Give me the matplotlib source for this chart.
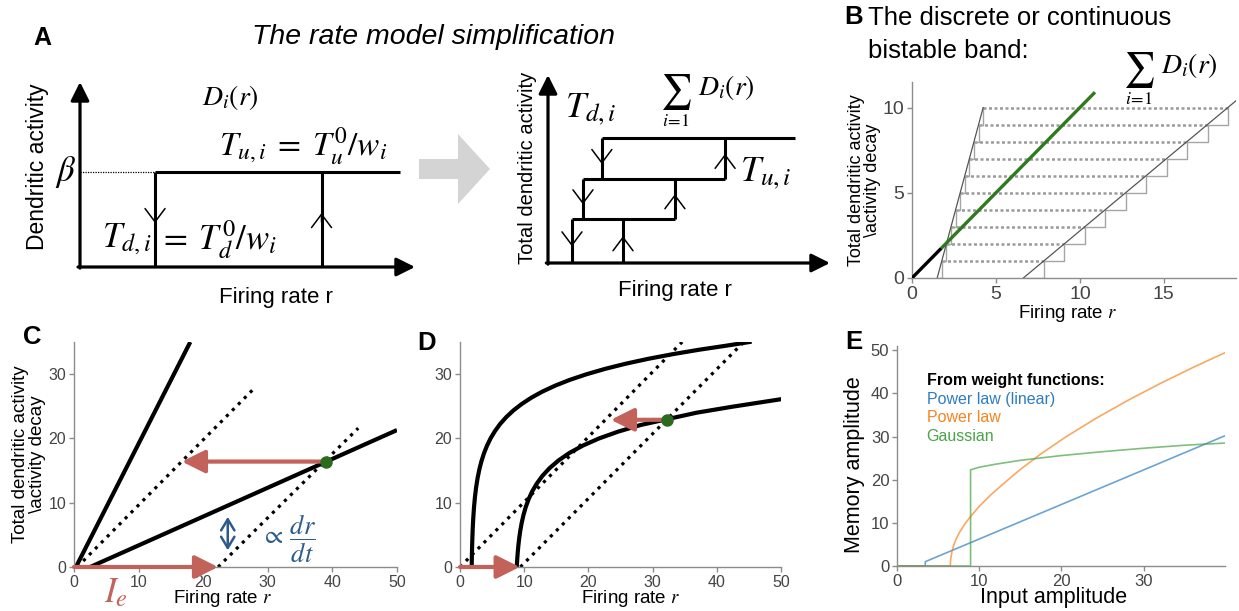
import numpy as np
import matplotlib.pyplot as plt
from matplotlib.patches import FancyArrow

plt.rcParams['font.family'] = ['Liberation Sans', 'DejaVu Sans']
plt.rcParams['mathtext.fontset'] = 'stix'

W, H = 1239, 611

# ---- A: single dendrite hysteresis (schematic units)
beta = 0.514
td_single = 0.224
tu_single = 0.721
r_end_single = 0.955

# ---- A: summed dendrites, three stacked loops
levels = [0.236, 0.447, 0.665]
td_multi = [0.085, 0.124, 0.191]
tu_multi = [0.266, 0.450, 0.628]
r_end_multi = 0.876

# ---- B: discrete bistable band
band_levels = [0, 1, 2, 3, 4, 5, 6, 7, 8, 9, 10]
t_down = [1.50, 1.78, 2.05, 2.32, 2.60, 2.87, 3.14, 3.42, 3.69, 3.97, 4.24]
t_up = [6.63, 7.85, 9.07, 10.29, 11.51, 12.73, 13.95, 15.17, 16.39, 17.61, 18.83]
up_edge_r = [6.63, 19.3]
up_edge_a = [0, 10.4]
decay_low_r = [0, 1.75]
decay_band_r = [1.75, 10.9]

# ---- C: linear dendritic activity
c_fast_r, c_fast_a = [0.3, 18.0], [0, 35]
c_slow_r, c_slow_a = [2.5, 50], [0, 21.3]
c_dec1_r, c_dec1_a = [0.5, 27.9], [0, 27.8]
c_dec2_r, c_dec2_a = [22.3, 44.0], [0, 21.6]
c_fixed = (39.0, 16.4)
c_back = 16.7
c_input = 22.3
c_gap_r, c_gap_a = 23.8, (2.6, 7.8)

# ---- D: saturating dendritic activity
d_up_r = [1.82, 1.85, 1.9, 1.97, 2.06, 2.18, 2.33, 2.52, 2.75, 3.02, 3.35, 3.75, 4.22,
          4.78, 5.45, 6.25, 7.2, 8.3, 9.6, 11.1, 12.8, 14.8, 17.1, 19.7, 22.6, 25.8,
          29.3, 33.1, 37.2, 41.5, 45.1]
d_up_a = [0, 1.69, 3.71, 5.70, 7.51, 9.27, 10.90, 12.45, 13.89, 15.21, 16.49, 17.73,
          18.90, 20.04, 21.15, 22.25, 23.31, 24.34, 25.35, 26.33, 27.27, 28.20, 29.11,
          29.98, 30.82, 31.62, 32.38, 33.10, 33.79, 34.43, 35.0]
d_low_r = [8.84, 8.87, 8.92, 8.99, 9.09, 9.22, 9.39, 9.61, 9.89, 10.24, 10.69, 11.24,
           11.94, 12.84, 13.94, 15.34, 17.04, 19.14, 21.64, 24.64, 28.14, 32.3, 36.84,
           42.34, 50.0]
d_low_a = [0, 0.53, 1.31, 2.23, 3.32, 4.46, 5.65, 6.87, 8.10, 9.32, 10.55, 11.75,
           12.95, 14.18, 15.37, 16.57, 17.74, 18.89, 19.99, 21.06, 22.09, 23.0, 24.0,
           24.92, 26.1]
d_dec1_r, d_dec1_a = [0, 34.6], [0, 35]
d_dec2_r, d_dec2_a = [9.4, 44.2], [0, 35]
d_fixed = (32.3, 22.9)
d_back = 23.5
d_input = 9.3

# ---- E: memory amplitude vs input amplitude
lin_in = [0, 3.44, 3.44, 39.9]
lin_mem = [0, 0, 1.0, 30.2]
pow_in = [0, 6.48, 6.5, 6.56, 6.68, 6.88, 7.18, 7.6, 8.2, 9.0, 10.0, 11.3, 13.0, 15.0,
          17.5, 20.5, 24.0, 28.0, 32.0, 36.0, 39.9]
pow_mem = [0, 0, 0.9, 1.9, 3.3, 4.7, 6.2, 7.8, 9.6, 11.6, 13.8, 16.3, 19.16, 22.38,
           25.98, 29.88, 34.0, 38.31, 42.29, 46.02, 49.45]
gau_in = [0, 8.95, 8.95, 10, 12, 15, 20, 25, 30, 35, 39.9]
gau_mem = [0, 0, 22.3, 22.9, 23.6, 24.5, 25.6, 26.5, 27.3, 28.0, 28.5]
legend_names = ['Power law (linear)', 'Power law', 'Gaussian']
legend_colors = ['#2f7dc0', '#f5851f', '#49a349']

RED = '#c2625b'
GREEN = '#2c6b1e'
BLUE = '#2d5b8c'


def rect(l, t, r, b):
    return [l / W, 1 - b / H, (r - l) / W, (b - t) / H]


def fpos(x, y):
    return x / W, 1 - y / H


def axis_arrows(ax):
    kw = dict(arrowstyle='-|>,head_length=0.8,head_width=0.4', mutation_scale=14,
              lw=2.3, color='k', shrinkA=0, shrinkB=0)
    ax.annotate('', xy=(0, 1), xytext=(0, -0.006), arrowprops=kw)
    ax.annotate('', xy=(1, 0), xytext=(-0.006, 0), arrowprops=kw)


def chevron(ax, x, y, up):
    d = 0.05
    ax.annotate('', xy=(x, y), xytext=(x, y - d if up else y + d),
                arrowprops=dict(arrowstyle='->,head_length=0.6,head_width=0.45',
                                mutation_scale=16, lw=1.1, color='k',
                                shrinkA=0, shrinkB=0))


def style(ax, size):
    for s in ['top', 'right']:
        ax.spines[s].set_visible(False)
    for s in ['left', 'bottom']:
        ax.spines[s].set_color('#8c8c8c')
        ax.spines[s].set_linewidth(1.0)
    ax.tick_params(color='#8c8c8c', labelcolor='#444444', length=3.5, width=1,
                   labelsize=size, pad=2)


def red_arrow(ax, start, end):
    ax.annotate('', xy=end, xytext=start,
                arrowprops=dict(arrowstyle='-|>,head_length=0.7,head_width=0.35',
                                mutation_scale=20, lw=3.0, color=RED,
                                shrinkA=0, shrinkB=0), zorder=4)


def sum_label(x, y):
    # summation sign with the index underneath and D_i(r) to its right (pixel position)
    fig.text(*fpos(x, y), r'$\sum$', fontsize=25, ha='center', va='center')
    fig.text(*fpos(x + 50, y - 4), r'$D_i(r)$', fontsize=20, ha='center', va='center')
    fig.text(*fpos(x, y + 29), r'$i\!=\!1$', fontsize=13, ha='center', va='center')


fig = plt.figure(figsize=(W / 100, H / 100), dpi=100)

# big grey arrow between the two schematics
ov = fig.add_axes([0, 0, 1, 1])
ov.set_xlim(0, W)
ov.set_ylim(H, 0)
ov.axis('off')
ov.add_patch(FancyArrow(419, 169, 71, 0, width=20, head_width=70, head_length=32,
                        length_includes_head=True, color='#d4d4d4', lw=0))

# ---------------- A, left: one dendrite
a1 = fig.add_axes(rect(80, 82, 415, 267))
a1.set_xlim(0, 1)
a1.set_ylim(0, 1)
a1.axis('off')
axis_arrows(a1)
lk = dict(color='k', lw=2.2, clip_on=False, solid_capstyle='butt')
a1.plot([0, td_single], [beta, beta], color='k', lw=0.9, ls=(0, (1, 1)), clip_on=False)
a1.plot([td_single, r_end_single], [beta, beta], **lk)
a1.plot([td_single, td_single], [0, beta], **lk)
a1.plot([tu_single, tu_single], [0, beta], **lk)
chevron(a1, td_single, beta / 2 - 0.02, up=False)
chevron(a1, tu_single, beta / 2 + 0.035, up=True)
a1.text(-0.128, 0.54, 'Dendritic activity', rotation=90, fontsize=16.5,
        ha='center', va='center')
a1.text(-0.012, beta, r'$\beta$', fontsize=25, ha='right', va='center')
a1.text(0.448, 0.915, r'$D_i(r)$', fontsize=20, ha='center', va='center')
a1.text(0.666, 0.655, r'$T_{u,i}\;=\;T_u^0/w_i$', fontsize=24, ha='center', va='center')
a1.text(td_single - 0.012, 0.15, r'$T_{d,i}$', fontsize=25, ha='right', va='center')
a1.text(td_single + 0.008, 0.15, r'$=\;T_d^0/w_i$', fontsize=25, ha='left', va='center')
a1.text(0.585, -0.165, 'Firing rate r', fontsize=16, ha='center', va='center')

# ---------------- A, right: sum over dendrites
a2 = fig.add_axes(rect(548, 75, 830, 263))
a2.set_xlim(0, 1)
a2.set_ylim(0, 1)
a2.axis('off')
axis_arrows(a2)
for i in range(3):
    lower = levels[i - 1] if i else 0
    right = tu_multi[i + 1] if i < 2 else r_end_multi
    a2.plot([td_multi[i], td_multi[i]], [lower, levels[i]], **lk)
    a2.plot([tu_multi[i], tu_multi[i]], [lower, levels[i]], **lk)
    a2.plot([td_multi[i], right], [levels[i], levels[i]], **lk)
    mid = (lower + levels[i]) / 2
    chevron(a2, td_multi[i], mid - 0.03, up=False)
    chevron(a2, tu_multi[i], mid + 0.025, up=True)
a2.text(-0.074, 0.505, 'Total dendritic activity', rotation=90, fontsize=14.5,
        ha='center', va='center')
a2.text(0.152, 0.82, r'$T_{d,i}$', fontsize=26, ha='center', va='center')
a2.text(0.773, 0.48, r'$T_{u,i}$', fontsize=26, ha='center', va='center')
a2.text(0.45, -0.145, 'Firing rate r', fontsize=16, ha='center', va='center')
sum_label(676, 92)

fig.text(*fpos(42, 38), 'A', fontsize=18, fontweight='bold', ha='center', va='center')
fig.text(*fpos(433, 37), 'The rate model simplification', fontsize=20.5,
         style='italic', ha='center', va='center')

# ---------------- B
axB = fig.add_axes(rect(912, 82, 1236, 278))
axB.set_xlim(0, 19.3)
axB.set_ylim(0, 11.5)
style(axB, 14)
for k in band_levels[1:]:
    axB.plot([t_down[k], t_up[k]], [k, k], color='#9a9a9a', lw=1.8,
             ls=(0, (1.2, 1.0)), zorder=1)
axB.plot(t_down, band_levels, drawstyle='steps-post', color='#a5a5a5', lw=1.0, zorder=2)
axB.plot(t_up, band_levels, drawstyle='steps-post', color='#a5a5a5', lw=1.0, zorder=2)
axB.plot([t_down[0], t_down[-1]], [band_levels[0], band_levels[-1]], color='#555555',
         lw=0.9, zorder=2)
axB.plot(up_edge_r, up_edge_a, color='#555555', lw=0.9, zorder=2)
axB.plot(decay_low_r, decay_low_r, color='k', lw=2.4, zorder=3, solid_capstyle='butt')
axB.plot(decay_band_r, decay_band_r, color='#2f7a1f', lw=2.4, zorder=3,
         solid_capstyle='butt')
axB.set_xticks([0, 5, 10, 15])
axB.set_yticks([0, 5, 10])
axB.set_xlabel('Firing rate $r$', fontsize=13.5)
axB.xaxis.set_label_coords(0.481, -0.128)
axB.set_ylabel('Total dendritic activity\n\\activity decay', fontsize=13, linespacing=0.95)
axB.yaxis.set_label_coords(-0.095, 0.5)
fig.text(*fpos(854, 17), 'B', fontsize=18.5, fontweight='bold', ha='center', va='center')
fig.text(*fpos(868, 18), 'The discrete or continuous', fontsize=18.5, ha='left', va='center')
fig.text(*fpos(868, 51), 'bistable band:', fontsize=18.5, ha='left', va='center')
sum_label(1139, 70)

# ---------------- C
axC = fig.add_axes(rect(74, 342, 397, 567))
axC.set_xlim(0, 50)
axC.set_ylim(0, 35)
style(axC, 11.5)
axC.plot(c_fast_r, c_fast_a, color='k', lw=3, solid_capstyle='butt')
axC.plot(c_slow_r, c_slow_a, color='k', lw=3, solid_capstyle='butt')
axC.plot(c_dec1_r, c_dec1_a, color='k', lw=2.3, ls=':')
axC.plot(c_dec2_r, c_dec2_a, color='k', lw=2.3, ls=':')
red_arrow(axC, c_fixed, (c_back, c_fixed[1]))
red_arrow(axC, (0, 0), (c_input, 0))
axC.plot(*c_fixed, 'o', color=GREEN, ms=8, zorder=5, clip_on=False)
axC.annotate('', xy=(c_gap_r, c_gap_a[0]), xytext=(c_gap_r, c_gap_a[1]),
             arrowprops=dict(arrowstyle='<->,head_length=0.5,head_width=0.3',
                             mutation_scale=16, lw=1.8, color=BLUE,
                             shrinkA=0, shrinkB=0))
axC.text(29.0, 4.3, r'$\propto\,\dfrac{dr}{dt}$', fontsize=19, color=BLUE,
         ha='left', va='center')
axC.text(6.5, -4.0, r'$I_e$', fontsize=25, color=RED, ha='center', va='center')
axC.set_xticks([0, 10, 20, 30, 40, 50])
axC.set_yticks([0, 10, 20, 30])
axC.set_xlabel('Firing rate $r$', fontsize=13.5)
axC.xaxis.set_label_coords(0.461, -0.093)
axC.set_ylabel('Total dendritic activity\n\\activity decay', fontsize=13.5, linespacing=1.0)
axC.yaxis.set_label_coords(-0.087, 0.5)
fig.text(*fpos(32, 337), 'C', fontsize=18.5, fontweight='bold', ha='center', va='center')

# ---------------- D
axD = fig.add_axes(rect(460, 342, 781, 567))
axD.set_xlim(0, 50)
axD.set_ylim(0, 35)
style(axD, 11.5)
axD.plot(d_up_r, d_up_a, color='k', lw=3)
axD.plot(d_low_r, d_low_a, color='k', lw=3)
axD.plot(d_dec1_r, d_dec1_a, color='k', lw=2.3, ls=':')
axD.plot(d_dec2_r, d_dec2_a, color='k', lw=2.3, ls=':')
red_arrow(axD, d_fixed, (d_back, d_fixed[1]))
red_arrow(axD, (0, 0), (d_input, 0))
axD.plot(*d_fixed, 'o', color=GREEN, ms=8, zorder=5)
axD.set_xticks([0, 10, 20, 30, 40, 50])
axD.set_yticks([0, 10, 20, 30])
axD.set_xlabel('Firing rate $r$', fontsize=13.5)
axD.xaxis.set_label_coords(0.533, -0.093)
fig.text(*fpos(427, 343), 'D', fontsize=18.5, fontweight='bold', ha='center', va='center')

# ---------------- E
axE = fig.add_axes(rect(897, 346, 1225, 566))
axE.set_xlim(0, 39.9)
axE.set_ylim(0, 51)
style(axE, 12)
axE.plot(lin_in, lin_mem, color=legend_colors[0], lw=1.2, alpha=0.7)
axE.plot(pow_in, pow_mem, color=legend_colors[1], lw=1.2, alpha=0.7)
axE.plot(gau_in, gau_mem, color=legend_colors[2], lw=1.2, alpha=0.7)
axE.set_xticks([0, 10, 20, 30])
axE.set_yticks([0, 10, 20, 30, 40, 50])
axE.text(0.09, 0.845, 'From weight functions:', transform=axE.transAxes,
         fontsize=11.5, fontweight='bold', va='center')
for i, (name, col) in enumerate(zip(legend_names, legend_colors)):
    axE.text(0.09, 0.759 - 0.086 * i, name, transform=axE.transAxes, fontsize=11.5,
             color=col, va='center')
axE.set_xlabel('Input amplitude', fontsize=15.5)
axE.xaxis.set_label_coords(0.476, -0.095)
axE.set_ylabel('Memory amplitude', fontsize=15.5)
axE.yaxis.set_label_coords(-0.098, 0.459)
fig.text(*fpos(854, 342), 'E', fontsize=18.5, fontweight='bold', ha='center', va='center')

fig.savefig('out.png', dpi=100)
